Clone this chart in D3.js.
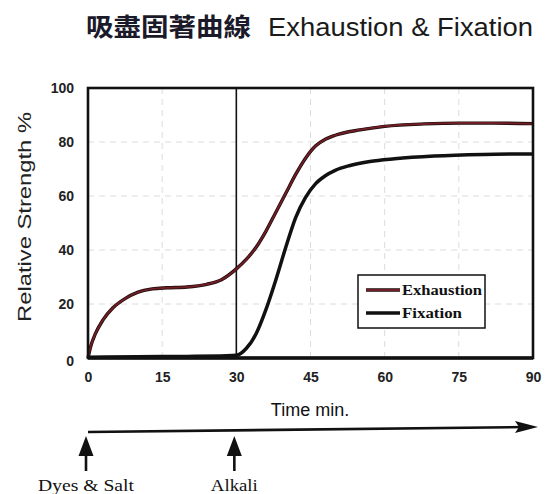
<!DOCTYPE html>
<html>
<head>
<meta charset="utf-8">
<script src="https://cdn.jsdelivr.net/npm/d3@7/dist/d3.min.js"></script>
<style>
  html, body { margin: 0; padding: 0; background: #fff; }
  svg { display: block; }
</style>
</head>
<body>
<svg id="chart" width="547" height="494"></svg>
<script>
// ---- data ----
const titleZh = "吸盡固著曲線";
const titleEn = "Exhaustion & Fixation";
const xTicks = [0, 15, 30, 45, 60, 75, 90];
const yTicks = [0, 20, 40, 60, 80, 100];
const seriesNames = ["Exhaustion", "Fixation"];
const exhaustionT = [0, 0.5, 1.5, 3, 5, 7.5, 10, 13, 16, 20, 24, 27, 30, 32, 34, 36, 38, 40, 42, 44, 46, 48, 50, 55, 60, 68, 75, 82, 90];
const exhaustionV = [0, 4, 9, 14, 18.5, 22, 24.3, 25.6, 26, 26.3, 27.3, 29, 33, 36.5, 41, 47, 54, 61, 68, 74, 78.5, 81, 82.5, 84.5, 85.8, 86.7, 87, 87, 86.8];
const fixationT = [0, 10, 20, 28, 30, 32, 34, 36, 38, 40, 42, 44, 46, 48, 50, 53, 57, 62, 70, 80, 90];
const fixationV = [0.3, 0.5, 0.6, 0.8, 1, 3.5, 9, 18, 29, 41, 52, 59.5, 64.5, 67.5, 69.5, 71.3, 72.8, 73.8, 74.8, 75.4, 75.6];
const events = [{ t: 0, label: "Dyes & Salt" }, { t: 30, label: "Alkali" }];
const alkaliTime = 30;

// ---- layout ----
const svg = d3.select("#chart");
const mLeft = 88, mRight = 533, mTop = 88, mBottom = 358;
const x = d3.scaleLinear().domain([0, 90]).range([mLeft, mRight]);
const y = d3.scaleLinear().domain([0, 100]).range([mBottom, mTop]);
const colors = { Exhaustion: "#6e1e24", Fixation: "#111" };

// title
svg.append("text").attr("x", 86).attr("y", 36)
  .attr("font-family", "Noto Sans CJK TC").attr("font-weight", "bold")
  .attr("font-size", 25).attr("fill", "#1a1a2a")
  .attr("textLength", 165).attr("lengthAdjust", "spacingAndGlyphs")
  .text(titleZh);
svg.append("text").attr("x", 268).attr("y", 36)
  .attr("font-family", "Liberation Sans, Arial").attr("font-size", 25).attr("fill", "#1a1a1a")
  .attr("textLength", 265).attr("lengthAdjust", "spacingAndGlyphs")
  .text(titleEn);

// grid (faint dashed)
const grid = svg.append("g").attr("stroke", "#dcdcdc").attr("stroke-width", 1).attr("stroke-dasharray", "6,5");
xTicks.filter(d => d > 0 && d < 90 && d !== alkaliTime).forEach(d => {
  grid.append("line").attr("x1", x(d)).attr("x2", x(d)).attr("y1", y(100)).attr("y2", y(0));
});
yTicks.filter(d => d > 0 && d < 100).forEach(d => {
  grid.append("line").attr("x1", x(0)).attr("x2", x(90)).attr("y1", y(d)).attr("y2", y(d));
});

// alkali vertical line
svg.append("line").attr("x1", x(alkaliTime)).attr("x2", x(alkaliTime))
  .attr("y1", y(100)).attr("y2", y(0)).attr("stroke", "#111").attr("stroke-width", 1.6);

// curves
const line = d3.line().x(d => x(d[0])).y(d => y(d[1])).curve(d3.curveMonotoneX);
const exData = exhaustionT.map((t, i) => [t, exhaustionV[i]]);
const fxData = fixationT.map((t, i) => [t, fixationV[i]]);
svg.append("path").datum(fxData).attr("d", line).attr("fill", "none")
  .attr("stroke", colors.Fixation).attr("stroke-width", 3.5);
svg.append("path").datum(exData).attr("d", line).attr("fill", "none")
  .attr("stroke", "#1a0a0a").attr("stroke-width", 3.4);
svg.append("path").datum(exData).attr("d", line).attr("fill", "none")
  .attr("stroke", colors.Exhaustion).attr("stroke-width", 2);

// frame
svg.append("rect").attr("x", x(0)).attr("y", y(100)).attr("width", x(90) - x(0)).attr("height", y(0) - y(100))
  .attr("fill", "none").attr("stroke", "#111").attr("stroke-width", 2.6);
svg.append("line").attr("x1", x(0)).attr("x2", x(90)).attr("y1", y(0)).attr("y2", y(0))
  .attr("stroke", "#111").attr("stroke-width", 3.5);

// axes
const yAxis = svg.append("g").attr("transform", `translate(${mLeft - 14},0)`)
  .call(d3.axisLeft(y).tickValues(yTicks).tickSize(0).tickPadding(0));
yAxis.select(".domain").remove();
yAxis.selectAll("text").attr("font-family", "Liberation Sans, Arial").attr("font-size", 14)
  .attr("font-weight", "bold").attr("fill", "#222").attr("dy", d => d === 0 ? "0.55em" : "0.32em");

const xAxis = svg.append("g").attr("transform", `translate(0,${mBottom + 14})`)
  .call(d3.axisBottom(x).tickValues(xTicks).tickSize(0).tickPadding(0));
xAxis.select(".domain").remove();
xAxis.selectAll("text").attr("font-family", "Liberation Sans, Arial").attr("font-size", 14)
  .attr("font-weight", "bold").attr("fill", "#222");

// axis titles
svg.append("text").attr("transform", "translate(31,217) rotate(-90)").attr("text-anchor", "middle")
  .attr("font-family", "Liberation Sans, Arial").attr("font-size", 19).attr("fill", "#222")
  .attr("textLength", 210).attr("lengthAdjust", "spacingAndGlyphs")
  .text("Relative Strength %");
svg.append("text").attr("x", 310).attr("y", 416).attr("text-anchor", "middle")
  .attr("font-family", "Liberation Sans, Arial").attr("font-size", 18).attr("fill", "#111")
  .text("Time min.");

// legend
const lg = svg.append("g");
lg.append("rect").attr("x", 358).attr("y", 275).attr("width", 127).attr("height", 53)
  .attr("fill", "#fff").attr("stroke", "#111").attr("stroke-width", 1.5);
seriesNames.forEach((name, i) => {
  const yy = 290 + i * 23;
  lg.append("line").attr("x1", 366).attr("x2", 400).attr("y1", yy).attr("y2", yy)
    .attr("stroke", i === 0 ? "#1a0a0a" : colors.Fixation).attr("stroke-width", 3.6);
  if (i === 0) lg.append("line").attr("x1", 366).attr("x2", 400).attr("y1", yy).attr("y2", yy)
    .attr("stroke", colors.Exhaustion).attr("stroke-width", 2);
  lg.append("text").attr("x", 402).attr("y", yy + 5)
    .attr("font-family", "Liberation Serif, Times New Roman").attr("font-weight", "bold")
    .attr("font-size", 14).attr("fill", "#111")
    .attr("textLength", i === 0 ? 80 : 60).attr("lengthAdjust", "spacingAndGlyphs")
    .text(name);
});

// timeline arrow
const tlY = 431;
svg.append("line").attr("x1", x(0)).attr("x2", x(90) - 6).attr("y1", tlY + 1).attr("y2", tlY - 4)
  .attr("stroke", "#111").attr("stroke-width", 2.6);
svg.append("path").attr("d", d3.line()([[x(90) - 18, tlY - 10], [x(90) + 5, tlY - 4], [x(90) - 18, tlY + 2], [x(90) - 14, tlY - 4]]) + "Z")
  .attr("fill", "#111");

events.forEach(ev => {
  const ex = x(ev.t) - 2;
  svg.append("path").attr("d", d3.line()([[ex, 436], [ex + 7.5, 456], [ex - 7.5, 456]]) + "Z").attr("fill", "#111");
  svg.append("line").attr("x1", ex).attr("x2", ex).attr("y1", 450).attr("y2", 471)
    .attr("stroke", "#111").attr("stroke-width", 2.6);
  svg.append("text").attr("x", ex).attr("y", 491).attr("text-anchor", "middle")
    .attr("font-family", "Liberation Serif, Times New Roman").attr("font-size", 17).attr("fill", "#111")
    .attr("textLength", ev.t === 0 ? 96 : 47).attr("lengthAdjust", "spacingAndGlyphs")
    .text(ev.label);
});
</script>
</body>
</html>
